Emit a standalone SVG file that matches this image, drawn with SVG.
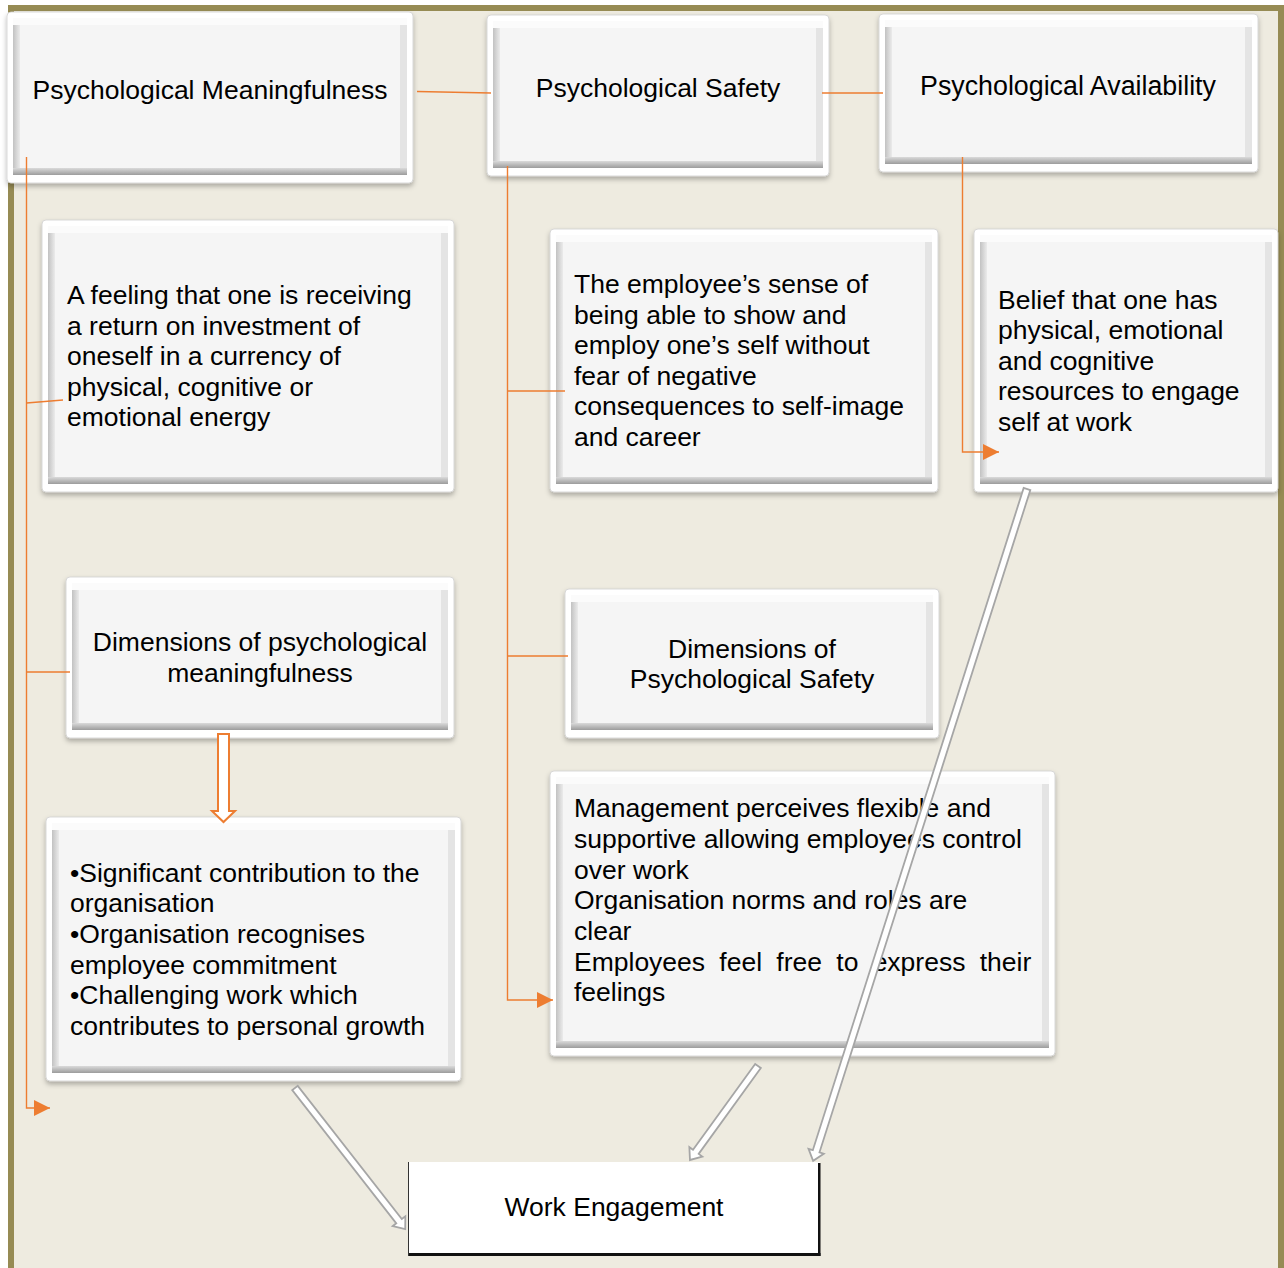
<svg xmlns="http://www.w3.org/2000/svg" width="1284" height="1268" viewBox="0 0 1284 1268">
  <defs>
    <style>
      .outer { fill: #ffffff; stroke: #cfcfcf; stroke-width: 0.8; filter: url(#shadow); }
      .side { fill: #e4e4e4; }
      .top { fill: #fbfbfb; }
      .left { fill: url(#gLeft); }
      .bot { fill: url(#gBot); }
      .face { fill: #f5f5f5; }
      .t { font-family: "Liberation Sans", Arial, sans-serif; font-size: 26.5px; fill: #000000; }
      .c { text-anchor: middle; }
      .conn { fill: none; stroke: #ed7d31; stroke-width: 1.4; }
      .garrow { fill: #ffffff; stroke: #a6a6a6; stroke-width: 1.8; stroke-linejoin: miter; }
    </style>
    <filter id="shadow" x="-5%" y="-5%" width="110%" height="115%">
      <feDropShadow dx="0" dy="3" stdDeviation="2.5" flood-color="#000000" flood-opacity="0.28"/>
    </filter>
    <linearGradient id="gLeft" x1="0" y1="0" x2="1" y2="0">
      <stop offset="0" stop-color="#c2c2c2"/>
      <stop offset="1" stop-color="#ebebeb"/>
    </linearGradient>
    <linearGradient id="gBot" x1="0" y1="0" x2="0" y2="1">
      <stop offset="0" stop-color="#dadada"/>
      <stop offset="1" stop-color="#9c9c9c"/>
    </linearGradient>
    <marker id="tri" markerUnits="userSpaceOnUse" markerWidth="16" markerHeight="16" refX="16" refY="8" orient="auto">
      <path d="M0,0 L16,8 L0,16 Z" fill="#ed7d31"/>
    </marker>
  </defs>

  <!-- page frame -->
  <rect x="0" y="0" width="1284" height="1268" fill="#ffffff"/>
  <rect x="8" y="5" width="1276" height="1263" fill="#968b54"/>
  <rect x="14" y="11" width="1264" height="1257" fill="#eeebe0"/>

  <!-- nodes -->
  <g id="psych-meaningfulness">
    <rect class="outer" x="7" y="12" width="406" height="171" rx="4"/>
    <rect class="side" x="13" y="18" width="394" height="157"/>
    <rect class="top" x="13" y="18" width="394" height="7"/>
    <rect class="left" x="13" y="25" width="7" height="143"/>
    <rect class="bot" x="13" y="168" width="394" height="7"/>
    <rect class="face" x="20" y="25" width="380" height="143"/>
    <text class="t c" x="210" y="99">Psychological Meaningfulness</text>
  </g>

  <g id="psych-safety">
    <rect class="outer" x="487" y="15" width="342" height="161" rx="4"/>
    <rect class="side" x="493" y="21" width="330" height="147"/>
    <rect class="top" x="493" y="21" width="330" height="7"/>
    <rect class="left" x="493" y="28" width="7" height="133"/>
    <rect class="bot" x="493" y="161" width="330" height="7"/>
    <rect class="face" x="500" y="28" width="316" height="133"/>
    <text class="t c" x="658" y="97">Psychological Safety</text>
  </g>

  <g id="psych-availability">
    <rect class="outer" x="879" y="14" width="379" height="158" rx="4"/>
    <rect class="side" x="885" y="20" width="367" height="144"/>
    <rect class="top" x="885" y="20" width="367" height="7"/>
    <rect class="left" x="885" y="27" width="7" height="130"/>
    <rect class="bot" x="885" y="157" width="367" height="7"/>
    <rect class="face" x="892" y="27" width="353" height="130"/>
    <text class="t c" x="1068" y="95" style="font-size:26.8px">Psychological Availability</text>
  </g>

  <g id="meaningfulness-definition">
    <rect class="outer" x="42" y="220" width="412" height="272" rx="4"/>
    <rect class="side" x="48" y="226" width="400" height="258"/>
    <rect class="top" x="48" y="226" width="400" height="7"/>
    <rect class="left" x="48" y="233" width="7" height="244"/>
    <rect class="bot" x="48" y="477" width="400" height="7"/>
    <rect class="face" x="55" y="233" width="386" height="244"/>
    <text class="t" x="67" y="304">A feeling that one is receiving</text>
    <text class="t" x="67" y="335">a return on investment of</text>
    <text class="t" x="67" y="365">oneself in a currency of</text>
    <text class="t" x="67" y="396">physical, cognitive or</text>
    <text class="t" x="67" y="426">emotional energy</text>
  </g>

  <g id="safety-definition">
    <rect class="outer" x="550" y="229" width="388" height="263" rx="4"/>
    <rect class="side" x="556" y="235" width="376" height="249"/>
    <rect class="top" x="556" y="235" width="376" height="7"/>
    <rect class="left" x="556" y="242" width="7" height="235"/>
    <rect class="bot" x="556" y="477" width="376" height="7"/>
    <rect class="face" x="563" y="242" width="362" height="235"/>
    <text class="t" x="574" y="293">The employee’s sense of</text>
    <text class="t" x="574" y="324">being able to show and</text>
    <text class="t" x="574" y="354">employ one’s self without</text>
    <text class="t" x="574" y="385">fear of negative</text>
    <text class="t" x="574" y="415">consequences to self-image</text>
    <text class="t" x="574" y="446">and career</text>
  </g>

  <g id="availability-definition">
    <rect class="outer" x="974" y="229" width="304" height="263" rx="4"/>
    <rect class="side" x="980" y="235" width="292" height="249"/>
    <rect class="top" x="980" y="235" width="292" height="7"/>
    <rect class="left" x="980" y="242" width="7" height="235"/>
    <rect class="bot" x="980" y="477" width="292" height="7"/>
    <rect class="face" x="987" y="242" width="278" height="235"/>
    <text class="t" x="998" y="309">Belief that one has</text>
    <text class="t" x="998" y="339">physical, emotional</text>
    <text class="t" x="998" y="370">and cognitive</text>
    <text class="t" x="998" y="400">resources to engage</text>
    <text class="t" x="998" y="431">self at work</text>
  </g>

  <g id="dimensions-meaningfulness">
    <rect class="outer" x="66" y="577" width="388" height="161" rx="4"/>
    <rect class="side" x="72" y="583" width="376" height="147"/>
    <rect class="top" x="72" y="583" width="376" height="7"/>
    <rect class="left" x="72" y="590" width="7" height="133"/>
    <rect class="bot" x="72" y="723" width="376" height="7"/>
    <rect class="face" x="79" y="590" width="362" height="133"/>
    <text class="t c" x="260" y="651">Dimensions of psychological</text>
    <text class="t c" x="260" y="682">meaningfulness</text>
  </g>

  <g id="dimensions-safety">
    <rect class="outer" x="565" y="589" width="374" height="149" rx="4"/>
    <rect class="side" x="571" y="595" width="362" height="135"/>
    <rect class="top" x="571" y="595" width="362" height="7"/>
    <rect class="left" x="571" y="602" width="7" height="121"/>
    <rect class="bot" x="571" y="723" width="362" height="7"/>
    <rect class="face" x="578" y="602" width="348" height="121"/>
    <text class="t c" x="752" y="658">Dimensions of</text>
    <text class="t c" x="752" y="688">Psychological Safety</text>
  </g>

  <g id="meaningfulness-items">
    <rect class="outer" x="46" y="817" width="415" height="264" rx="4"/>
    <rect class="side" x="52" y="823" width="403" height="250"/>
    <rect class="top" x="52" y="823" width="403" height="7"/>
    <rect class="left" x="52" y="830" width="7" height="236"/>
    <rect class="bot" x="52" y="1066" width="403" height="7"/>
    <rect class="face" x="59" y="830" width="389" height="236"/>
    <text class="t" x="70" y="882">•Significant contribution to the</text>
    <text class="t" x="70" y="912">organisation</text>
    <text class="t" x="70" y="943">•Organisation recognises</text>
    <text class="t" x="70" y="974">employee commitment</text>
    <text class="t" x="70" y="1004">•Challenging work which</text>
    <text class="t" x="70" y="1035">contributes to personal growth</text>
  </g>

  <g id="safety-items">
    <rect class="outer" x="550" y="771" width="505" height="285" rx="4"/>
    <rect class="side" x="556" y="777" width="493" height="271"/>
    <rect class="top" x="556" y="777" width="493" height="7"/>
    <rect class="left" x="556" y="784" width="7" height="257"/>
    <rect class="bot" x="556" y="1041" width="493" height="7"/>
    <rect class="face" x="563" y="784" width="479" height="257"/>
    <text class="t" x="574" y="817">Management perceives flexible and</text>
    <text class="t" x="574" y="848">supportive allowing employees control</text>
    <text class="t" x="574" y="879">over work</text>
    <text class="t" x="574" y="909">Organisation norms and roles are</text>
    <text class="t" x="574" y="940">clear</text>
    <text class="t" x="574" y="971" word-spacing="6.9">Employees feel free to express their</text>
    <text class="t" x="574" y="1001">feelings</text>
  </g>

  <g id="work-engagement">
    <rect x="408" y="1162" width="412" height="93" fill="#ffffff"/>
    <rect x="408" y="1162" width="1" height="94" fill="#333333"/>
    <rect x="818" y="1163" width="2.5" height="93" fill="#111111"/>
    <rect x="409" y="1253" width="411.5" height="3" fill="#111111"/>
    <text class="t c" x="614" y="1216">Work Engagement</text>
  </g>

  <!-- connectors -->
  <g id="connectors">
    <path class="conn" d="M417,91.5 L491,93"/>
    <path class="conn" d="M822,93 H883"/>

    <path class="conn" d="M26.5,157 V1108 H50" marker-end="url(#tri)"/>
    <path class="conn" d="M26.5,403 L63,400"/>
    <path class="conn" d="M26.5,672 H70"/>

    <path class="conn" d="M507.5,166 V1000 H553" marker-end="url(#tri)"/>
    <path class="conn" d="M507.5,391 H565"/>
    <path class="conn" d="M507.5,656 H568"/>

    <path class="conn" d="M962.5,157 V452 H999" marker-end="url(#tri)"/>

    <polygon points="218,734 229,734 229,811 235,811 223.5,822 212,811 218,811" fill="#ffffff" stroke="#ed7d31" stroke-width="2"/>

    <g transform="translate(295,1088) rotate(52)">
      <path class="garrow" d="M0,-3.5 H169 V-8 L179,0 L169,8 V3.5 H0 Z"/>
    </g>
    <g transform="translate(758,1066) rotate(125.9)">
      <path class="garrow" d="M0,-3.5 H106 V-8 L116,0 L106,8 V3.5 H0 Z"/>
    </g>
    <g transform="translate(1027,489) rotate(107.66)">
      <path class="garrow" d="M0,-3.5 H695 V-8 L705,0 L695,8 V3.5 H0 Z"/>
    </g>
  </g>
</svg>
